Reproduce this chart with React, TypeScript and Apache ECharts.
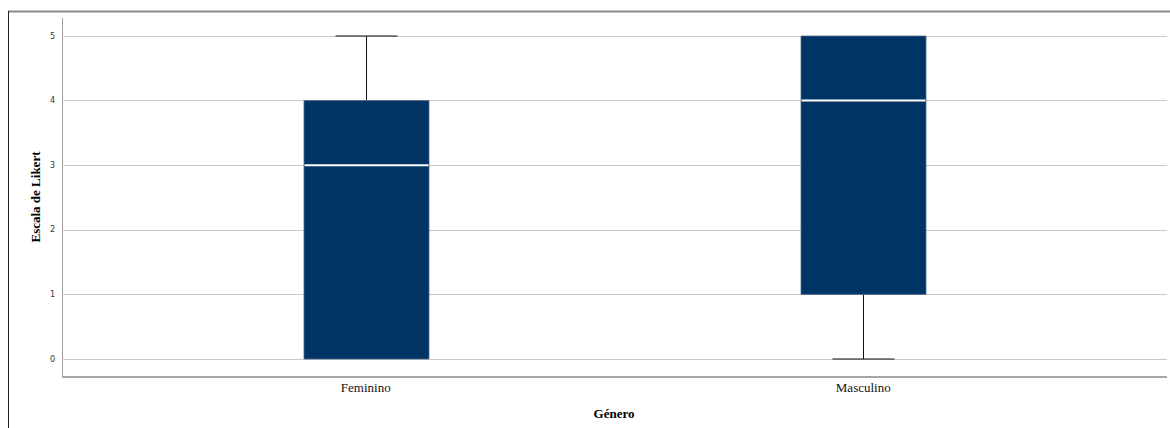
import React, { useEffect, useRef } from "react";
import * as echarts from "echarts";

const categories = ["Feminino", "Masculino"];
// [index, min, Q1, median, Q3, max]
const boxStats = [
  [0, 0, 0, 3, 4, 5],
  [1, 0, 1, 4, 5, 5],
];
const yTicks = [0, 1, 2, 3, 4, 5];
const yTitle = "Escala de Likert";
const xTitle = "Género";

export default function App() {
  const ref = useRef<HTMLDivElement>(null);
  useEffect(() => {
    const chart = echarts.init(ref.current!, undefined, { renderer: "svg" });
    const option: any = {
      animation: false,
      backgroundColor: "#ffffff",
      grid: [
        { left: 62, top: 36, width: 1105, height: 323 },
        { left: 117, top: 36, width: 995, height: 323 },
      ],
      xAxis: [
        { gridIndex: 0, type: "value", min: 0, max: 1, show: false },
        {
          gridIndex: 1, type: "category", data: categories,
          axisLine: { show: false }, axisTick: { show: false }, splitLine: { show: false },
          axisLabel: { margin: 22, fontFamily: "Liberation Serif", fontSize: 13, color: "#111" },
        },
      ],
      yAxis: [
        {
          gridIndex: 0, type: "value", min: yTicks[0], max: yTicks[yTicks.length - 1], interval: 1,
          position: "left",
          axisLine: { show: false }, axisTick: { show: false },
          axisLabel: { margin: 7, fontFamily: "DejaVu Sans", fontSize: 8, color: "#333" },
          splitLine: { show: true, lineStyle: { color: "#c8c8c8", width: 1 } },
        },
        { gridIndex: 1, type: "value", min: 0, max: 5, show: false },
      ],
      graphic: [
        { type: "line", shape: { x1: 8, y1: 11.5, x2: 1170, y2: 11.5 }, style: { stroke: "#8a8a8a", lineWidth: 2 } },
        { type: "line", shape: { x1: 8.5, y1: 11, x2: 8.5, y2: 428 }, style: { stroke: "#222", lineWidth: 1 } },
        { type: "line", shape: { x1: 62.5, y1: 18, x2: 62.5, y2: 377 }, style: { stroke: "#a0a0a0", lineWidth: 1 } },
        { type: "line", shape: { x1: 62, y1: 377, x2: 1167, y2: 377 }, style: { stroke: "#a6a6a6", lineWidth: 2 } },
        {
          type: "text", x: 35, y: 197, rotation: Math.PI / 2,
          style: { text: yTitle, fontFamily: "Liberation Serif", fontWeight: "bold", fontSize: 13, fill: "#000", align: "center", verticalAlign: "middle" },
        },
        {
          type: "text", x: 614, y: 413,
          style: { text: xTitle, fontFamily: "Liberation Serif", fontWeight: "bold", fontSize: 13, fill: "#000", align: "center", verticalAlign: "middle" },
        },
      ],
      series: [
        {
          type: "custom",
          xAxisIndex: 1,
          yAxisIndex: 1,
          data: boxStats,
          encode: { x: 0, y: [1, 2, 3, 4, 5] },
          renderItem: (params: any, api: any) => {
            const x = api.value(0);
            const mn = api.coord([x, api.value(1)]);
            const q1 = api.coord([x, api.value(2)]);
            const md = api.coord([x, api.value(3)]);
            const q3 = api.coord([x, api.value(4)]);
            const mx = api.coord([x, api.value(5)]);
            const cx = Math.round(mn[0]) + 0.5;
            const bw = 125;
            const cw = 62;
            const children: any[] = [];
            const lineStyle = { stroke: "#111", lineWidth: 1 };
            if (mx[1] < q3[1]) {
              children.push({ type: "line", shape: { x1: cx, y1: mx[1], x2: cx, y2: q3[1] }, style: lineStyle });
              children.push({ type: "line", shape: { x1: cx - cw / 2, y1: mx[1], x2: cx + cw / 2, y2: mx[1] }, style: lineStyle });
            }
            if (mn[1] > q1[1]) {
              children.push({ type: "line", shape: { x1: cx, y1: q1[1], x2: cx, y2: mn[1] }, style: lineStyle });
              children.push({ type: "line", shape: { x1: cx - cw / 2, y1: mn[1], x2: cx + cw / 2, y2: mn[1] }, style: lineStyle });
            }
            children.push({
              type: "rect",
              shape: { x: cx - bw / 2, y: q3[1], width: bw, height: q1[1] - q3[1] },
              style: { fill: "#003464", stroke: "#4f6a8a", lineWidth: 0.8 },
            });
            children.push({
              type: "line",
              shape: { x1: cx - bw / 2 + 0.5, y1: md[1], x2: cx + bw / 2 - 0.5, y2: md[1] },
              style: { stroke: "#ffffff", lineWidth: 2 },
            });
            return { type: "group", children };
          },
        },
      ],
    };
    chart.setOption(option);
    return () => chart.dispose();
  }, []);
  return (
    <div
      ref={ref}
      style={{ position: "fixed", left: 0, top: 0, width: 1170, height: 428 }}
    />
  );
}
